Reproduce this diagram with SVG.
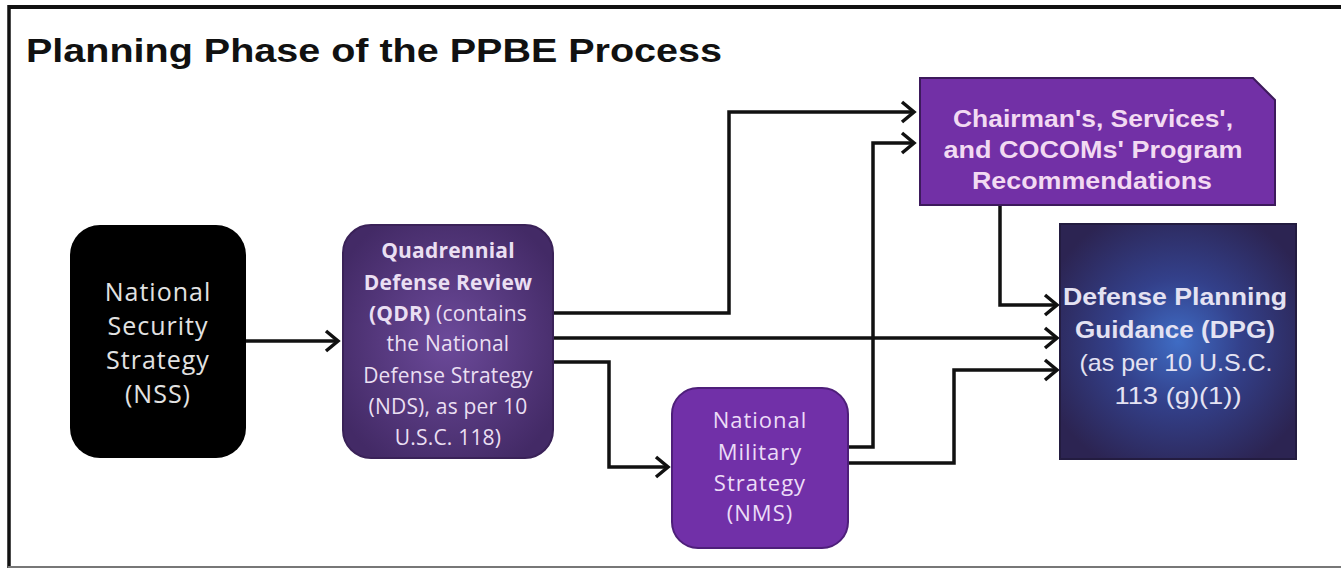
<svg xmlns="http://www.w3.org/2000/svg" width="1341" height="570" viewBox="0 0 1341 570">
<style>
.cn{fill:none;stroke:#111;stroke-width:3.5;marker-end:url(#ah)}
.hs{font-family:"Open Sans",Lato,sans-serif;text-anchor:middle}
.ar{font-family:"Liberation Sans",Arial,sans-serif;text-anchor:middle;font-weight:bold}
</style>
<defs>
<marker id="ah" markerUnits="userSpaceOnUse" markerWidth="20" markerHeight="24" refX="15" refY="12" orient="auto" viewBox="0 0 20 24">
<path d="M3,2 L15,12 L3,22" fill="none" stroke="#111" stroke-width="3.5"/>
</marker>
<radialGradient id="gq" cx="0.5" cy="0.5" r="0.6">
<stop offset="0" stop-color="#6c4a9a"/>
<stop offset="1" stop-color="#432a66"/>
</radialGradient>
<radialGradient id="gd" cx="0.5" cy="0.5" r="0.6">
<stop offset="0" stop-color="#3f6cc4"/>
<stop offset="0.45" stop-color="#33408a"/>
<stop offset="1" stop-color="#2c2452"/>
</radialGradient>
</defs>
<rect width="1341" height="570" fill="#fff"/>
<g id="frame">
<line x1="8" y1="7" x2="1341" y2="7" stroke="#111" stroke-width="4"/>
<line x1="9" y1="5" x2="9" y2="568" stroke="#111" stroke-width="3.5"/>
<line x1="8" y1="567" x2="1341" y2="567" stroke="#777" stroke-width="2"/>
</g>
<text x="26" y="62" font-family="'Liberation Sans',Arial,sans-serif" font-weight="bold" font-size="33" fill="#111" textLength="696" lengthAdjust="spacingAndGlyphs">Planning Phase of the PPBE Process</text>
<g id="connectors">
<path class="cn" d="M246,341 H338"/>
<path class="cn" d="M553,313 H729 V112 H914"/>
<path class="cn" d="M553,338 H1057"/>
<path class="cn" d="M553,362 H609 V467 H668"/>
<path class="cn" d="M848,447 H873 V143 H914"/>
<path class="cn" d="M848,463 H954 V370 H1057"/>
<path class="cn" d="M1000,205 V305 H1057"/>
</g>
<g id="nss">
<rect x="70" y="225" width="176" height="233" rx="30" fill="#000"/>
<text class="hs" font-size="25" letter-spacing="1" fill="#e2e2e2"><tspan x="158" y="301">National</tspan><tspan x="158" y="335">Security</tspan><tspan x="158" y="369">Strategy</tspan><tspan x="158" y="403">(NSS)</tspan></text>
</g>
<g id="qdr">
<rect x="343" y="225" width="210" height="233" rx="28" fill="url(#gq)" stroke="#3a2258" stroke-width="2"/>
<text class="hs" font-size="21" letter-spacing="0.2" fill="#eadff2"><tspan x="448" y="258" font-weight="bold">Quadrennial</tspan><tspan x="448" y="290" font-weight="bold">Defense Review</tspan><tspan x="448" y="321"><tspan font-weight="bold">(QDR)</tspan> (contains</tspan><tspan x="448" y="351">the National</tspan><tspan x="448" y="383">Defense Strategy</tspan><tspan x="448" y="414">(NDS), as per 10</tspan><tspan x="448" y="445">U.S.C. 118)</tspan></text>
</g>
<g id="nms">
<rect x="672" y="388" width="176" height="160" rx="26" fill="#7130a8" stroke="#4e1f7a" stroke-width="2"/>
<text class="hs" font-size="22" letter-spacing="1" fill="#ecdcf7"><tspan x="760" y="428">National</tspan><tspan x="760" y="460">Military</tspan><tspan x="760" y="491">Strategy</tspan><tspan x="760" y="521">(NMS)</tspan></text>
</g>
<g id="chairman">
<path d="M920,78 H1253 L1275,100 V205 H920 Z" fill="#7230a6" stroke="#3d1a5c" stroke-width="2"/>
<text class="ar" font-size="24" fill="#f2daf2"><tspan x="1093" y="127" textLength="280" lengthAdjust="spacingAndGlyphs">Chairman's, Services',</tspan><tspan x="1093" y="158" textLength="299" lengthAdjust="spacingAndGlyphs">and COCOMs' Program</tspan><tspan x="1092" y="189" textLength="240" lengthAdjust="spacingAndGlyphs">Recommendations</tspan></text>
</g>
<g id="dpg">
<rect x="1060" y="224" width="236" height="235" fill="url(#gd)" stroke="#231c40" stroke-width="2"/>
<text class="ar" font-size="24" fill="#e4e2f2"><tspan x="1175" y="305" textLength="224" lengthAdjust="spacingAndGlyphs">Defense Planning</tspan><tspan x="1175" y="338" textLength="200" lengthAdjust="spacingAndGlyphs">Guidance (DPG)</tspan><tspan x="1176" y="371" font-weight="normal" textLength="193" lengthAdjust="spacingAndGlyphs">(as per 10 U.S.C.</tspan><tspan x="1178" y="404" font-weight="normal" textLength="127" lengthAdjust="spacingAndGlyphs">113 (g)(1))</tspan></text>
</g>
</svg>
